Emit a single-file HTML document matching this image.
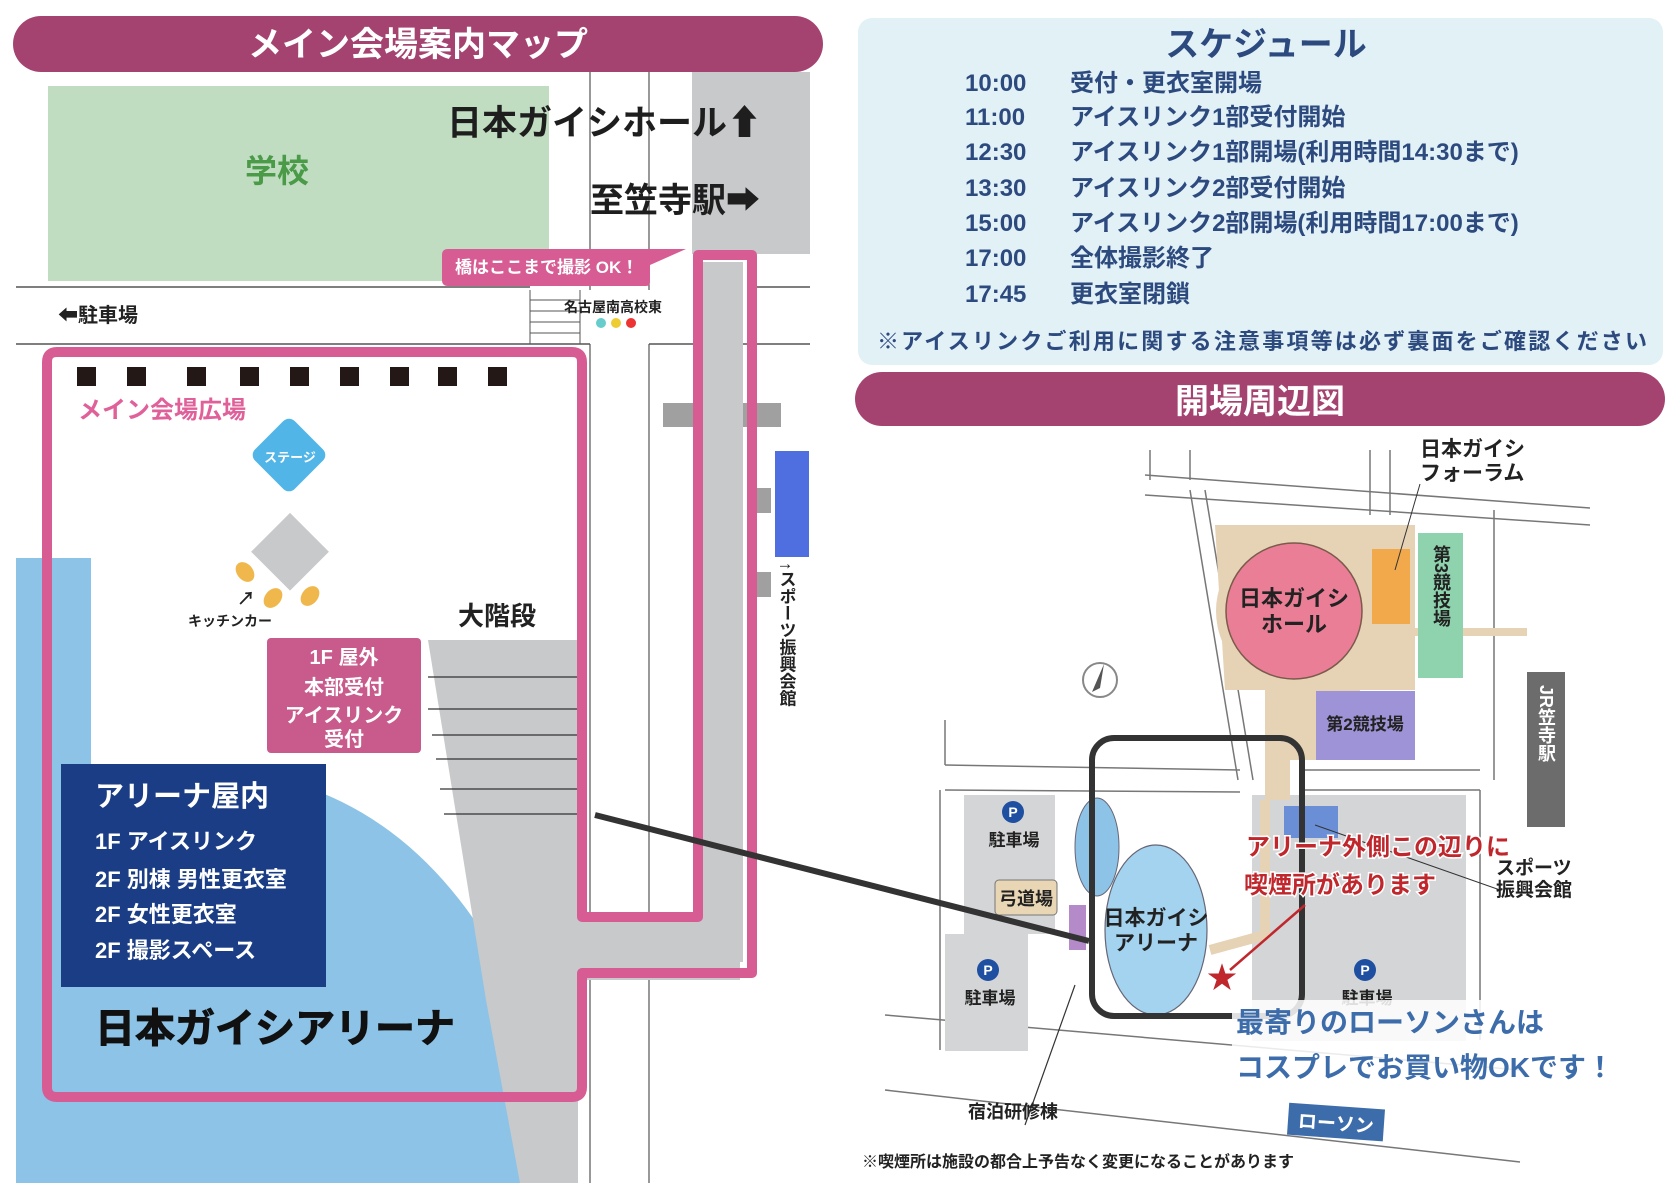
<!DOCTYPE html>
<html><head><meta charset="utf-8"><style>
html,body{margin:0;padding:0;background:#fff}
svg{display:block}
text{font-family:"Liberation Sans","Noto Sans CJK JP",sans-serif;font-weight:bold}
</style></head><body>
<svg width="1673" height="1186" viewBox="0 0 1673 1186" xmlns="http://www.w3.org/2000/svg">
<!-- LEFT MAP -->
<rect x="48" y="86" width="501" height="195" fill="#c0ddc1"/>
<text x="277" y="182" font-size="32" fill="#4a9a48" text-anchor="middle">学校</text>
<rect x="692" y="72" width="118" height="182" fill="#c8c9cb"/>
<line x1="590" y1="72" x2="590" y2="290" stroke="#555" stroke-width="1.2"/>
<line x1="649" y1="72" x2="649" y2="290" stroke="#555" stroke-width="1.2"/>
<line x1="16" y1="287" x2="530" y2="287" stroke="#555" stroke-width="1.5"/>
<line x1="756" y1="287" x2="810" y2="287" stroke="#555" stroke-width="1.5"/>
<line x1="16" y1="344" x2="590" y2="344" stroke="#555" stroke-width="1.5"/>
<line x1="649" y1="344" x2="810" y2="344" stroke="#555" stroke-width="1.5"/>
<line x1="590" y1="344" x2="590" y2="1183" stroke="#555" stroke-width="1.2"/>
<line x1="649" y1="344" x2="649" y2="1183" stroke="#555" stroke-width="1.2"/>
<g stroke="#555" stroke-width="1"><line x1="530" y1="290" x2="530" y2="344"/><line x1="580" y1="290" x2="580" y2="344"/>
<line x1="530" y1="300" x2="580" y2="300"/><line x1="530" y1="311" x2="580" y2="311"/><line x1="530" y1="322" x2="580" y2="322"/><line x1="530" y1="333" x2="580" y2="333"/></g>
<text x="564" y="312" font-size="14" fill="#222">名古屋南高校東</text>
<circle cx="601" cy="323" r="5" fill="#6cc"/><circle cx="616" cy="323" r="5" fill="#ec3"/><circle cx="631" cy="323" r="5" fill="#e33"/>
<text x="58" y="322" font-size="20" fill="#222">⬅駐車場</text>
<text x="447" y="135" font-size="35" fill="#1e1e1e">日本ガイシホール⬆</text>
<text x="590" y="212" font-size="34" fill="#1e1e1e">至笠寺駅➡</text>
<rect x="663" y="403" width="118" height="24" fill="#a0a0a0"/>
<rect x="756" y="488" width="15" height="25" fill="#a0a0a0"/>
<rect x="756" y="572" width="15" height="25" fill="#a0a0a0"/>
<rect x="775" y="451" width="34" height="106" fill="#4f6ee0"/>
<text font-size="17" fill="#222" writing-mode="tb" x="786" y="562">↑スポーツ振興会館</text>
<!-- blue arena area -->
<rect x="16" y="558" width="75" height="625" fill="#8dc3e6"/>
<rect x="16" y="1000" width="520" height="183" fill="#8dc3e6"/>
<path d="M60 785 L300 785 Q440 830 520 1000 L520 1183 L60 1183Z" fill="#8dc3e6"/>
<path d="M428 640 L578 640 L578 1183 L520 1183 L486 1000 Z" fill="#c8c9cb"/>
<path d="M578 920 L740 920 L740 980 L578 980Z" fill="#c8c9cb"/>
<rect x="698" y="262" width="45" height="700" fill="#c8c9cb"/>
<g stroke="#333" stroke-width="1.2">
<line x1="428" y1="677" x2="578" y2="677"/><line x1="428" y1="709" x2="578" y2="709"/><line x1="432" y1="735" x2="578" y2="735"/><line x1="436" y1="759" x2="578" y2="759"/><line x1="440" y1="789" x2="578" y2="789"/><line x1="444" y1="814" x2="578" y2="814"/></g>
<path d="M582 362 Q582 352 572 352 L57 352 Q47 352 47 362 L47 1087 Q47 1097 57 1097 L572 1097 Q582 1097 582 1087 L582 973 L752 973 L752 255 L698 255 L698 917 L582 917 Z" fill="none" stroke="#d65c93" stroke-width="10" stroke-linejoin="round"/>
<g fill="#231815">
<rect x="77" y="367" width="19" height="19"/><rect x="127" y="367" width="19" height="19"/><rect x="187" y="367" width="19" height="19"/><rect x="240" y="367" width="19" height="19"/><rect x="290" y="367" width="19" height="19"/><rect x="340" y="367" width="19" height="19"/><rect x="390" y="367" width="19" height="19"/><rect x="438" y="367" width="19" height="19"/><rect x="488" y="367" width="19" height="19"/></g>
<text x="78" y="418" font-size="24" fill="#e0609a">メイン会場広場</text>
<rect x="261" y="427" width="56" height="56" rx="8" fill="#52b5e8" transform="rotate(45 289 455)"/>
<text x="290" y="462" font-size="13" fill="#fff" text-anchor="middle">ステージ</text>
<rect x="263" y="524" width="55" height="55" fill="#c8c9cb" transform="rotate(45 290 551)"/>
<g fill="#f0b84c"><ellipse cx="245" cy="572" rx="8" ry="11" transform="rotate(-40 245 572)"/><ellipse cx="273" cy="598" rx="8" ry="11" transform="rotate(40 273 598)"/><ellipse cx="310" cy="596" rx="8" ry="11" transform="rotate(40 310 596)"/></g>
<text x="188" y="626" font-size="14" fill="#222">キッチンカー</text>
<text x="237" y="605" font-size="18" fill="#222">↗</text>
<text x="458" y="625" font-size="26" fill="#222">大階段</text>
<rect x="267" y="638" width="154" height="115" rx="4" fill="#c85b8c"/>
<g font-size="20" fill="#fff" text-anchor="middle"><text x="344" y="664">1F 屋外</text><text x="344" y="694">本部受付</text><text x="344" y="722">アイスリンク</text><text x="344" y="746">受付</text></g>
<rect x="61" y="764" width="265" height="223" fill="#1a3d85"/>
<text x="95" y="806" font-size="29" fill="#fff">アリーナ屋内</text>
<g font-size="22" fill="#fff"><text x="95" y="849">1F アイスリンク</text><text x="95" y="887">2F 別棟 男性更衣室</text><text x="95" y="922">2F 女性更衣室</text><text x="95" y="958">2F 撮影スペース</text></g>
<text x="95" y="1042" font-size="40" fill="#111" stroke="#111" stroke-width="1">日本ガイシアリーナ</text>
<path d="M448 249 L686 249 L650 265 L650 282 Q650 286 646 286 L448 286 Q442 286 442 280 L442 255 Q442 249 448 249Z" fill="#d65c93"/>
<text x="455" y="273" font-size="17" fill="#fff">橋はここまで撮影 OK！</text>
<rect x="13" y="16" width="810" height="56" rx="28" fill="#a54370"/>
<text x="418" y="56" font-size="34" fill="#fff" text-anchor="middle">メイン会場案内マップ</text>
<!-- schedule -->
<rect x="858" y="18" width="805" height="347" rx="14" fill="#e2f1f6"/>
<text x="1266" y="56" font-size="34" fill="#2d4a7f" text-anchor="middle">スケジュール</text>
<g font-size="24" fill="#2d4a7f">
<text x="965" y="91">10:00</text><text x="1070" y="91">受付・更衣室開場</text>
<text x="965" y="125">11:00</text><text x="1070" y="125">アイスリンク1部受付開始</text>
<text x="965" y="160">12:30</text><text x="1070" y="160">アイスリンク1部開場(利用時間14:30まで)</text>
<text x="965" y="196">13:30</text><text x="1070" y="196">アイスリンク2部受付開始</text>
<text x="965" y="231">15:00</text><text x="1070" y="231">アイスリンク2部開場(利用時間17:00まで)</text>
<text x="965" y="266">17:00</text><text x="1070" y="266">全体撮影終了</text>
<text x="965" y="302">17:45</text><text x="1070" y="302">更衣室閉鎖</text>
</g>
<text x="877" y="349" font-size="22" font-weight="normal" fill="#2d4a7f" textLength="770">※アイスリンクご利用に関する注意事項等は必ず裏面をご確認ください</text>
<rect x="855" y="372" width="810" height="54" rx="27" fill="#a54370"/>
<text x="1260" y="413" font-size="34" fill="#fff" text-anchor="middle">開場周辺図</text>
<!-- RIGHT MAP -->
<g stroke="#777" stroke-width="1.5" fill="none">
<line x1="1150" y1="450" x2="1150" y2="480"/><line x1="1190" y1="450" x2="1190" y2="480"/>
<path d="M1145 475 L1590 508"/><path d="M1145 495 L1590 525"/>
<path d="M1190 490 L1238 780"/><path d="M1205 490 L1253 780"/>
<line x1="1370" y1="450" x2="1370" y2="515"/><line x1="1390" y1="450" x2="1390" y2="515"/>
<line x1="1494" y1="510" x2="1494" y2="780"/>
<line x1="945" y1="720" x2="945" y2="765"/>
<path d="M945 765 L1240 770"/><path d="M945 790 L1240 792"/>
<path d="M1300 770 L1480 770"/><path d="M1300 790 L1480 790"/>
<line x1="940" y1="790" x2="940" y2="1050"/><line x1="1480" y1="790" x2="1480" y2="1040"/>
<path d="M885 1015 L1520 1070"/><path d="M885 1090 L1520 1162"/>
</g>
<rect x="964" y="795" width="91" height="139" fill="#d4d5d7"/>
<rect x="945" y="934" width="83" height="117" fill="#d4d5d7"/>
<rect x="1252" y="795" width="214" height="246" fill="#d4d5d7"/>
<path d="M1215 525 L1415 525 L1415 690 L1360 690 L1360 760 L1290 760 L1290 800 L1265 800 L1265 690 L1225 690 Z" fill="#e6d2b5"/>
<rect x="1360" y="628" width="167" height="8" fill="#e6d2b5"/>
<circle cx="1294" cy="611" r="78" fill="#e6d2b5"/>
<circle cx="1294" cy="611" r="68" fill="#ea7e96" stroke="#7a5a4a" stroke-width="1.5"/>
<text x="1294" y="606" font-size="22" fill="#222" text-anchor="middle">日本ガイシ</text>
<text x="1294" y="632" font-size="22" fill="#222" text-anchor="middle">ホール</text>
<rect x="1372" y="549" width="38" height="75" fill="#f2a94c"/>
<rect x="1418" y="533" width="45" height="145" fill="#8fd3ae"/>
<text font-size="18" fill="#222" writing-mode="tb" x="1441" y="545">第3競技場</text>
<rect x="1316" y="691" width="99" height="69" fill="#9d93d6"/>
<text x="1365" y="730" font-size="17" fill="#222" text-anchor="middle">第2競技場</text>
<rect x="1527" y="672" width="38" height="155" fill="#6c6c6c"/>
<text font-size="18" fill="#fff" writing-mode="tb" x="1546" y="685">JR笠寺駅</text>
<text x="1420" y="456" font-size="21" fill="#222">日本ガイシ</text>
<text x="1420" y="480" font-size="21" fill="#222">フォーラム</text>
<line x1="1420" y1="484" x2="1395" y2="570" stroke="#333" stroke-width="1"/>
<circle cx="1100" cy="680" r="17" fill="#fff" stroke="#888" stroke-width="2"/><path d="M1104 664 L1092 692 L1100 688Z" fill="#555"/>
<rect x="1284" y="806" width="54" height="32" fill="#6b8fd6"/>
<line x1="1315" y1="825" x2="1500" y2="890" stroke="#333" stroke-width="1"/>
<text x="1496" y="874" font-size="19" fill="#222">スポーツ</text>
<text x="1496" y="896" font-size="19" fill="#222">振興会館</text>
<path d="M1265 800 L1265 935 L1210 950" stroke="#e6d2b5" stroke-width="10" fill="none"/>
<ellipse cx="1097" cy="847" rx="22" ry="49" fill="#8dc3e6" stroke="#667" stroke-width="1"/>
<ellipse cx="1156" cy="930" rx="51" ry="85" fill="#a4d3f0" stroke="#667" stroke-width="1.2"/>
<text x="1156" y="925" font-size="21" fill="#222" text-anchor="middle">日本ガイシ</text>
<text x="1156" y="950" font-size="21" fill="#222" text-anchor="middle">アリーナ</text>
<rect x="1069" y="905" width="17" height="45" fill="#b48ac9"/>
<rect x="995" y="880" width="62" height="35" rx="4" fill="#e8d6b4" stroke="#777"/>
<text x="1026" y="905" font-size="18" fill="#222" text-anchor="middle">弓道場</text>
<g font-size="17" fill="#222" text-anchor="middle"><text x="1014" y="846">駐車場</text><text x="990" y="1004">駐車場</text><text x="1367" y="1004">駐車場</text></g>
<g fill="#1f4fa0"><circle cx="1013" cy="812" r="11"/><circle cx="988" cy="970" r="11"/><circle cx="1365" cy="970" r="11"/></g>
<g font-size="14" fill="#fff" text-anchor="middle"><text x="1013" y="817">P</text><text x="988" y="975">P</text><text x="1365" y="975">P</text></g>
<rect x="1092" y="738" width="210" height="278" rx="22" fill="none" stroke="#333" stroke-width="6"/>
<line x1="595" y1="815" x2="1089" y2="941" stroke="#333" stroke-width="6"/>
<line x1="1075" y1="985" x2="1025" y2="1125" stroke="#333" stroke-width="1.2"/>
<text x="968" y="1118" font-size="18" fill="#222">宿泊研修棟</text>
<g font-size="24" fill="#c0272d" stroke="#fff" stroke-width="3" paint-order="stroke">
<text x="1246" y="855">アリーナ外側この辺りに</text>
<text x="1244" y="893">喫煙所があります</text></g>
<line x1="1305" y1="905" x2="1230" y2="970" stroke="#c0272d" stroke-width="2.5"/>
<text x="1222" y="988" font-size="30" fill="#c0272d" text-anchor="middle">★</text>
<rect x="1232" y="1000" width="400" height="95" fill="#fff" opacity="0.85"/>
<text x="1236" y="1032" font-size="28" fill="#3d6cab">最寄りのローソンさんは</text>
<text x="1236" y="1077" font-size="28" fill="#3d6cab">コスプレでお買い物OKです！</text>
<g transform="rotate(4 1335 1122)"><rect x="1288" y="1106" width="96" height="32" fill="#3d6cab"/><text x="1336" y="1130" font-size="19" fill="#fff" text-anchor="middle">ローソン</text></g>
<text x="862" y="1167" font-size="16" font-weight="normal" fill="#222">※喫煙所は施設の都合上予告なく変更になることがあります</text>
</svg>
</body></html>
